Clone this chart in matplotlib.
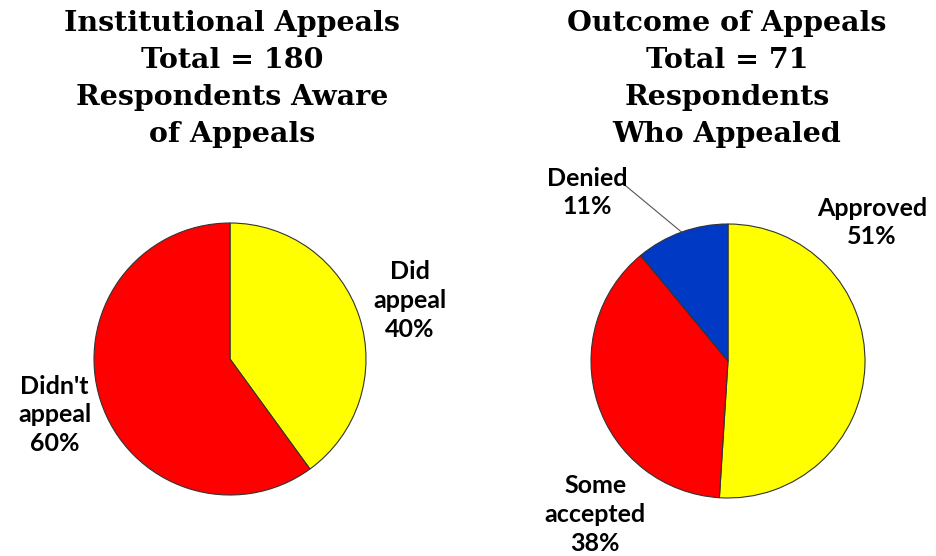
import numpy as np
import matplotlib
matplotlib.use("Agg")
import matplotlib.pyplot as plt

# Data
left_title = "Institutional Appeals\nTotal = 180\nRespondents Aware\nof Appeals"
left_labels = ["Did\nappeal", "Didn't\nappeal"]
left_values = [40, 60]
left_colors = ["#FFFF00", "#FF0000"]

right_title = "Outcome of Appeals\nTotal = 71\nRespondents\nWho Appealed"
right_labels = ["Approved", "Some\naccepted", "Denied"]
right_values = [51, 38, 11]
right_colors = ["#FFFF00", "#FF0000", "#0039C4"]

W, H = 937, 556
fig = plt.figure(figsize=(W / 100, H / 100), dpi=100)
fig.patch.set_facecolor("white")

title_font = dict(family="DejaVu Serif", weight="heavy", size=20.5)
label_font = dict(family="Lato", weight="bold", size=18)


def make_ax(cx, cy, r):
    ax = fig.add_axes([(cx - r) / W, 1 - (cy + r) / H, 2 * r / W, 2 * r / H])
    ax.set_xlim(-1, 1)
    ax.set_ylim(-1, 1)
    ax.set_aspect("equal")
    ax.axis("off")
    return ax


# Left pie
axL = make_ax(230, 359, 136)
wL, _ = axL.pie(left_values, colors=left_colors, startangle=90, counterclock=False,
                radius=1, center=(0, 0), frame=False,
                wedgeprops=dict(edgecolor="#333333", linewidth=0.8))
axL.set_xlim(-1, 1); axL.set_ylim(-1, 1)
left_pos = [(1.32, 0.43), (-1.29, -0.41)]
for lab, v, (x, y) in zip(left_labels, left_values, left_pos):
    axL.text(x, y, f"{lab}\n{v}%", ha="center", va="center", linespacing=1.3,
             clip_on=False, **label_font)

# Right pie
axR = make_ax(728, 361, 137)
wR, _ = axR.pie(right_values, colors=right_colors, startangle=90, counterclock=False,
                radius=1, center=(0, 0), frame=False,
                wedgeprops=dict(edgecolor="#333333", linewidth=0.8))
axR.set_xlim(-1, 1); axR.set_ylim(-1, 1)
right_pos = [(1.05, 1.01), (-0.97, -1.12), (-1.03, 1.23)]
for lab, v, (x, y) in zip(right_labels, right_values, right_pos):
    axR.text(x, y, f"{lab}\n{v}%", ha="center", va="center", linespacing=1.3,
             clip_on=False, **label_font)

# leader line for Denied
w = wR[2]
mid = np.deg2rad((w.theta1 + w.theta2) / 2)
ex, ey = np.cos(mid), np.sin(mid)
axR.plot([-0.80, -0.76, ex], [1.29, 1.29, ey], color="#555555", lw=0.8, clip_on=False)

# Titles
fig.text(232 / W, 1 - 79 / H, left_title, ha="center", va="center",
         linespacing=1.48, **title_font)
fig.text(727 / W, 1 - 79 / H, right_title, ha="center", va="center",
         linespacing=1.48, **title_font)

fig.savefig("out.png", dpi=100, facecolor="white")
